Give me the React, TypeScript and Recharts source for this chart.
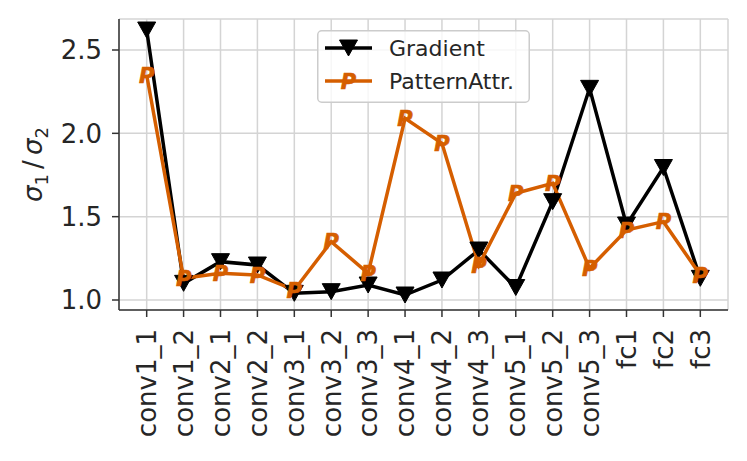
import React from 'react';
import { LineChart, Line, XAxis, YAxis, CartesianGrid, Legend } from 'recharts';

const layers = ['conv1_1', 'conv1_2', 'conv2_1', 'conv2_2', 'conv3_1', 'conv3_2', 'conv3_3', 'conv4_1', 'conv4_2', 'conv4_3', 'conv5_1', 'conv5_2', 'conv5_3', 'fc1', 'fc2', 'fc3'];
const gradient = [2.62, 1.10, 1.23, 1.21, 1.04, 1.05, 1.09, 1.03, 1.12, 1.30, 1.075, 1.59, 2.27, 1.45, 1.795, 1.13];
const patternAttr = [2.35, 1.13, 1.16, 1.15, 1.06, 1.35, 1.16, 2.09, 1.94, 1.21, 1.64, 1.70, 1.19, 1.42, 1.47, 1.15];
const yTicks = [1.0, 1.5, 2.0, 2.5];
const xTicks = layers.map((_, i) => i);

const data = layers.map((name, i) => ({ idx: i, name, gradient: gradient[i], pattern: patternAttr[i] }));

const FONT = '"DejaVu Sans", sans-serif';
const TEXT = '#262626';
const ORANGE = '#d55e00';
const GRID = '#d4d4d4';
const AXIS = '#333333';

const Tri = ({ cx, cy }: { cx: number; cy: number }) => (
  <polygon points={`${cx - 9},${cy - 8} ${cx + 9},${cy - 8} ${cx},${cy + 8}`} fill="#000" stroke="#000" strokeWidth={1} />
);

const PMark = ({ cx, cy }: { cx: number; cy: number }) => (
  <text x={cx} y={cy + 7.5} textAnchor="middle" fontFamily={FONT} fontStyle="italic" fontWeight="bold" fontSize={21}
    fill={ORANGE} stroke={ORANGE} strokeWidth={0.6}>P</text>
);

const triDot = (props: any) => {
  const { cx, cy, index } = props;
  if (cx == null || cy == null) return <g key={`t${index}`} />;
  return <Tri key={`t${index}`} cx={cx} cy={cy} />;
};
const pDot = (props: any) => {
  const { cx, cy, index } = props;
  if (cx == null || cy == null) return <g key={`p${index}`} />;
  return <PMark key={`p${index}`} cx={cx} cy={cy} />;
};

const XTick = (props: any) => {
  const { x, y, payload } = props;
  return (
    <text x={x} y={y} transform={`rotate(-90, ${x}, ${y})`} textAnchor="end" dy="0.36em"
      fontFamily={FONT} fontSize={26} fill={TEXT}>{layers[payload.value]}</text>
  );
};

const YLabel = (props: any) => {
  const vb = props.viewBox || { x: 0, y: 19, width: 119, height: 291 };
  const x = vb.x + 33;
  const y = vb.y + vb.height / 2;
  return (
    <text x={x} y={y} transform={`rotate(-90, ${x}, ${y})`} textAnchor="middle" dy="0.35em"
      fontFamily={FONT} fontSize={26} fill={TEXT}>
      <tspan fontStyle="italic">σ</tspan>
      <tspan fontSize={18} dy={6}>1</tspan>
      <tspan dy={-6}>{'\u2009/\u2009'}</tspan>
      <tspan fontStyle="italic">σ</tspan>
      <tspan fontSize={18} dy={6}>2</tspan>
    </text>
  );
};

const renderLegend = () => (
  <svg width={213} height={73} style={{ display: 'block' }}>
    <rect x={0.75} y={0.75} width={211.5} height={71.5} rx={4} fill="rgba(255,255,255,0.8)" stroke="#cccccc" strokeWidth={1.5} />
    <line x1={8} x2={55} y1={18} y2={18} stroke="#000" strokeWidth={3.5} />
    <Tri cx={31.5} cy={18} />
    <text x={72} y={18} dy="0.35em" fontFamily={FONT} fontSize={22} fill={TEXT}>Gradient</text>
    <line x1={8} x2={55} y1={51} y2={51} stroke={ORANGE} strokeWidth={3.5} />
    <PMark cx={31.5} cy={51} />
    <text x={72} y={51} dy="0.35em" fontFamily={FONT} fontSize={22} fill={TEXT}>PatternAttr.</text>
  </svg>
);

export default function App() {
  return (
    <div style={{ position: 'absolute', left: 0, top: 0, background: '#fff' }}>
      <LineChart width={747} height={461} data={data} margin={{ top: 19, right: 19, bottom: 0, left: 0 }}>
        <CartesianGrid stroke={GRID} strokeWidth={1.5} />
        <XAxis dataKey="idx" type="number" domain={[-0.75, 15.75]} ticks={xTicks} interval={0}
          allowDataOverflow height={151} tickSize={7} tickMargin={12}
          tickLine={{ stroke: AXIS, strokeWidth: 1.5 }} axisLine={{ stroke: AXIS, strokeWidth: 1.5 }}
          tick={<XTick />} />
        <XAxis xAxisId="top" orientation="top" dataKey="idx" type="number" domain={[-0.75, 15.75]}
          height={0} tick={false} tickLine={false} axisLine={{ stroke: AXIS, strokeWidth: 1.5 }} />
        <YAxis type="number" domain={[0.94, 2.686]} ticks={yTicks} allowDataOverflow width={119}
          tickSize={7} tickMargin={10} tickFormatter={(v: number) => v.toFixed(1)}
          tickLine={{ stroke: AXIS, strokeWidth: 1.5 }} axisLine={{ stroke: AXIS, strokeWidth: 1.5 }}
          tick={{ fontFamily: FONT, fontSize: 26, fill: TEXT }} label={<YLabel />} />
        <YAxis yAxisId="right" orientation="right" type="number" domain={[0.94, 2.686]} width={0}
          tick={false} tickLine={false} axisLine={{ stroke: AXIS, strokeWidth: 1.5 }} />
        <Legend layout="horizontal" verticalAlign="middle" align="center" content={renderLegend}
          wrapperStyle={{ left: 317, top: 30, width: 213, height: 73 }} />
        <Line dataKey="gradient" stroke="#000" strokeWidth={3.5} dot={triDot} activeDot={false}
          isAnimationActive={false} />
        <Line dataKey="pattern" stroke={ORANGE} strokeWidth={3.5} dot={pDot} activeDot={false}
          isAnimationActive={false} />
      </LineChart>
    </div>
  );
}
